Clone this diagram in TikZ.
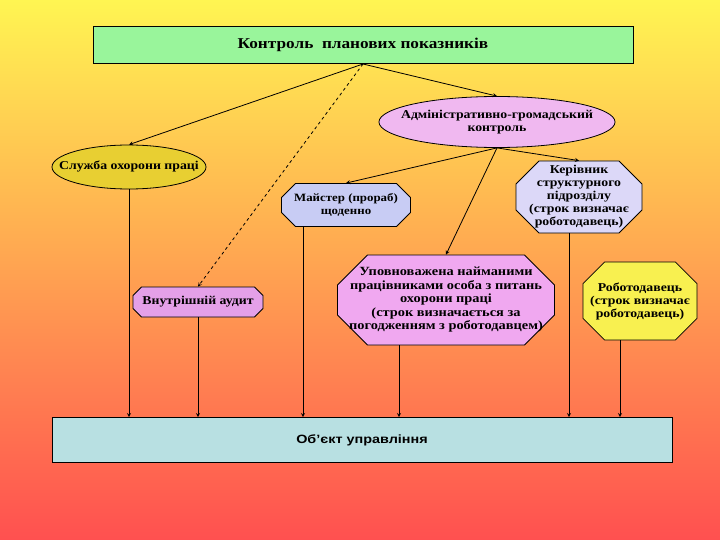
\documentclass[tikz,border=0pt]{standalone}
\usepackage{fontspec}
\setmainfont{Liberation Serif}
\setsansfont{Liberation Sans}
\newfontfamily\wideserif[FakeStretch=1.15]{Liberation Serif}
\newfontfamily\widesans[FakeStretch=1.2]{Liberation Sans}
\usetikzlibrary{shapes.geometric, shapes.misc}

\definecolor{bgTop}{HTML}{FFF552}
\definecolor{bgMid}{HTML}{FDB85C}
\definecolor{bgBot}{HTML}{FF5050}
\definecolor{ctrlGreen}{HTML}{99F59B}
\definecolor{adminPink}{HTML}{F0B8F0}
\definecolor{sluzhbaYellow}{HTML}{E8CF32}
\definecolor{maisterBlue}{HTML}{C8CCF4}
\definecolor{kerivLav}{HTML}{DCD8F8}
\definecolor{auditPink}{HTML}{E4A0E8}
\definecolor{upovPink}{HTML}{F0A8F0}
\definecolor{robotYellow}{HTML}{F8F050}
\definecolor{objCyan}{HTML}{B8E0E2}

\tikzset{
  box/.style = {draw, thick, inner sep=0pt, align=center,
                font=\wideserif\bfseries\fontsize{12}{13}\selectfont},
  oval/.style = {box, ellipse},
  octa/.style = {box, chamfered rectangle},
}

\begin{document}
\begin{tikzpicture}[x=1pt, y=-1pt, > = stealth, thick]
    % background %
    \useasboundingbox (0,0) rectangle (720,540);
    \shade [top color=bgTop, middle color=bgMid, bottom color=bgBot]
          (0,0) rectangle (720,540);

    % boxes %

    % top box
    \node [box, fill=ctrlGreen,
          minimum width=540, minimum height=37,
          font=\wideserif\bfseries\fontsize{15}{17}\selectfont]
          at (363,45) (ctrl)
          {Контроль\ \ планових показників};
    \coordinate (hub) at (363,64);

    % ellipses
    \node [oval, fill=adminPink, inner xsep=-12.5,
          minimum width=235, minimum height=51]
          at (497,122) (admin)
          {Адміністративно-громадський\\контроль};
    \node [oval, fill=sluzhbaYellow, inner xsep=-15.5,
          minimum width=154, minimum height=44]
          at (129,167) (sluzhba)
          {Служба охорони праці};

    % octagons
    \node [octa, fill=maisterBlue, chamfered rectangle xsep=11,
          minimum width=129, minimum height=43,
          font=\wideserif\bfseries\fontsize{11.2}{12.5}\selectfont]
          at (346,205) (maister)
          {Майстер (прораб)\\щоденно};
    \node [octa, fill=kerivLav, chamfered rectangle xsep=20,
          inner xsep=-7, minimum width=126, minimum height=72]
          at (579,197) (keriv)
          {Керівник\\структурного\\підрозділу\\(строк визначає\\роботодавець)};
    \node [octa, fill=auditPink, chamfered rectangle xsep=6,
          minimum width=130, minimum height=30]
          at (198,302) (audit)
          {Внутрішній аудит};
    \node [octa, fill=upovPink, chamfered rectangle xsep=27,
          inner xsep=-15.5, minimum width=217, minimum height=90,
          font=\wideserif\bfseries\fontsize{12.5}{13.5}\selectfont]
          at (446,300) (upov)
          {Уповноважена найманими\\працівниками особа з питань\\охорони праці\\(строк визначається за\\погодженням з роботодавцем)};
    \node [octa, fill=robotYellow, chamfered rectangle xsep=24,
          inner xsep=-12, minimum width=114, minimum height=78]
          at (640,301) (robot)
          {Роботодавець\\(строк визначає\\роботодавець)};

    % bottom box
    \node [box, fill=objCyan, minimum width=620, minimum height=45,
          font=\widesans\bfseries\fontsize{12}{13}\selectfont]
          at (362,440) (object)
          {Об’єкт управління};

    % arrows from the top %
    \draw [->] (hub) -- (sluzhba.north) ;
    \draw [->] (hub) -- (admin.north) ;
    \draw [->, dashed] (hub) -- (audit.north) ;

    % arrows from the ellipse
    \draw [->] (admin.south) -- (maister.north) ;
    \draw [->] (admin.south) -- (upov.north) ;
    \draw [->] (admin.south) -- (keriv.north) ;

    % arrows down to the object %
    \draw [->] (sluzhba.south) -- (sluzhba.south |- object.north) ;
    \draw [->] (audit.south) -- (audit.south |- object.north) ;
    \draw [->] (303,0 |- maister.south) -- (303,0 |- object.north) ;
    \draw [->] (399,0 |- upov.south) -- (399,0 |- object.north) ;
    \draw [->] (569,0 |- keriv.south) -- (569,0 |- object.north) ;
    \draw [->] (620,0 |- robot.south) -- (620,0 |- object.north) ;

\end{tikzpicture}
\end{document}
